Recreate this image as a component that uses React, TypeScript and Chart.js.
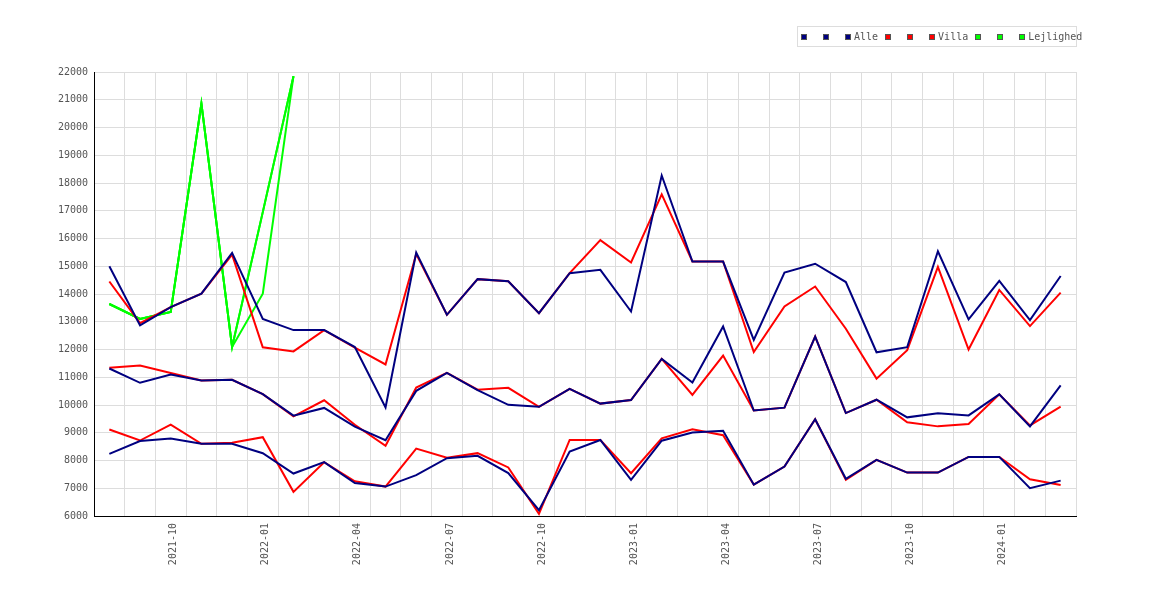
import { useEffect, useRef } from "react";
import { Chart, registerables } from "chart.js";

Chart.register(...registerables);

// months 2021-08 .. 2024-03
const months = [
  "2021-08", "2021-09", "2021-10", "2021-11", "2021-12",
  "2022-01", "2022-02", "2022-03", "2022-04", "2022-05", "2022-06",
  "2022-07", "2022-08", "2022-09", "2022-10", "2022-11", "2022-12",
  "2023-01", "2023-02", "2023-03", "2023-04", "2023-05", "2023-06",
  "2023-07", "2023-08", "2023-09", "2023-10", "2023-11", "2023-12",
  "2024-01", "2024-02", "2024-03",
];

const alleLow = [
  8240, 8700, 8790, 8600, 8600, 8260, 7530, 7940, 7190, 7060, 7470, 8085,
  8170, 7545, 6210, 8320, 8740, 7300, 8715, 9005, 9075, 7130, 7780, 9485,
  7340, 8025, 7565, 7565, 8130, 8130, 7000, 7275,
];
const alleMid = [
  11315, 10800, 11100, 10880, 10910, 10390, 9615, 9895, 9220, 8730, 10510,
  11160, 10535, 10005, 9935, 10580, 10050, 10180, 11660, 10810, 12830, 9800,
  9905, 12465, 9710, 10190, 9555, 9700, 9625, 10385, 9230, 10710,
];
const alleHigh = [
  15000, 12870, 13530, 14010, 15480, 13100, 12700, 12700, 12090, 9910, 15495,
  13250, 14535, 14460, 13310, 14750, 14870, 13370, 18270, 15170, 15170, 12345,
  14775, 15090, 14430, 11900, 12085, 15540, 13085, 14470, 13060, 14650,
];

const villaLow = [
  9115, 8720, 9295, 8600, 8640, 8840, 6870, 7940, 7250, 7060, 8430, 8100,
  8265, 7750, 6080, 8740, 8740, 7540, 8800, 9125, 8910, 7130, 7780, 9485,
  7300, 8025, 7565, 7565, 8130, 8130, 7325, 7120,
];
const villaMid = [
  11340, 11420, 11150, 10880, 10910, 10390, 9590, 10170, 9290, 8530, 10630,
  11160, 10550, 10620, 9935, 10580, 10050, 10180, 11660, 10365, 11780, 9800,
  9905, 12465, 9710, 10190, 9375, 9230, 9315, 10385, 9265, 9940,
];
const villaHigh = [
  14450, 12950, 13530, 14010, 15420, 12080, 11930, 12700, 12070, 11460, 15440,
  13250, 14535, 14460, 13310, 14750, 15940, 15135, 17590, 15170, 15170, 11910,
  13550, 14270, 12750, 10950, 11975, 14975, 12000, 14145, 12845, 14050,
];

// Lejlighed only has the first seven months
const lejLow = [13640, 13100, 13350, 20860, 12090, 14010, 21850];
const lejMid = [13640, 13100, 13350, 20860, 12090, 16950, 21850];
const lejHigh = [13640, 13100, 13350, 20860, 12090, 16950, 21850];

const groups = [
  { name: "Alle", color: "#000080", series: [alleLow, alleMid, alleHigh] },
  { name: "Villa", color: "#ff0000", series: [villaLow, villaMid, villaHigh] },
  { name: "Lejlighed", color: "#00ff00", series: [lejLow, lejMid, lejHigh] },
];

const FONT = "'DejaVu Sans Mono', monospace";

export default function App() {
  const canvasRef = useRef<HTMLCanvasElement | null>(null);

  useEffect(() => {
    if (!canvasRef.current) return;
    const ctx = canvasRef.current.getContext("2d");
    if (!ctx) return;

    const datasets: any[] = [];
    groups.forEach((g) => {
      g.series.forEach((s, i) => {
        datasets.push({
          label: i === 2 ? g.name : "",
          data: s,
          borderColor: g.color,
          backgroundColor: g.color,
          borderWidth: 2,
          pointRadius: 0,
          tension: 0,
          fill: false,
        });
      });
    });

    const chart = new Chart(ctx, {
      type: "line",
      data: { labels: months, datasets },
      options: {
        animation: false,
        responsive: false,
        layout: { padding: { left: 0, right: 94, top: 72, bottom: 0 } },
        plugins: { legend: { display: false }, tooltip: { enabled: false } },
        scales: {
          x: {
            offset: true,
            grid: { offset: true, color: "#dddddd", drawTicks: false },
            border: { color: "#000000", width: 1 },
            ticks: {
              autoSkip: false,
              minRotation: 90,
              maxRotation: 90,
              padding: 7,
              labelOffset: 3,
              color: "#555555",
              font: { family: FONT, size: 10 },
              callback: (_v: any, i: number) => {
                const m = months[i];
                return /-(01|04|07|10)$/.test(m) ? m : "";
              },
            },
            afterFit: (s: any) => {
              s.height = 84;
            },
          },
          y: {
            min: 6000,
            max: 22000,
            grid: { color: "#dddddd", drawTicks: false },
            border: { color: "#000000", width: 1 },
            ticks: {
              stepSize: 1000,
              padding: 6,
              color: "#555555",
              font: { family: FONT, size: 10 },
              callback: (v: any) => String(v),
            },
            afterFit: (s: any) => {
              s.width = 94;
            },
          },
        },
      },
    });

    return () => chart.destroy();
  }, []);

  return (
    <div
      style={{
        position: "fixed",
        left: 0,
        top: 0,
        width: 1170,
        height: 600,
        background: "#fff",
      }}
    >
      <canvas ref={canvasRef} width={1170} height={600}></canvas>
      <div
        style={{
          position: "absolute",
          left: 797,
          top: 26,
          width: 280,
          height: 21,
          boxSizing: "border-box",
          border: "1px solid #dddddd",
          display: "flex",
          alignItems: "center",
          paddingLeft: 3,
          whiteSpace: "nowrap",
          fontFamily: FONT,
          fontSize: 10,
          color: "#555555",
        }}
      >
        {groups.map((g) =>
          g.series.map((_s, i) => (
            <div
              key={g.name + i}
              style={{
                display: "flex",
                alignItems: "center",
                marginRight: i === 2 ? 7 : 16,
              }}
            >
              <span
                style={{
                  display: "inline-block",
                  width: 6,
                  height: 6,
                  boxSizing: "border-box",
                  border: "1px solid #555555",
                  background: g.color,
                }}
              ></span>
              {i === 2 ? <span style={{ marginLeft: 3 }}>{g.name}</span> : null}
            </div>
          ))
        )}
      </div>
    </div>
  );
}
